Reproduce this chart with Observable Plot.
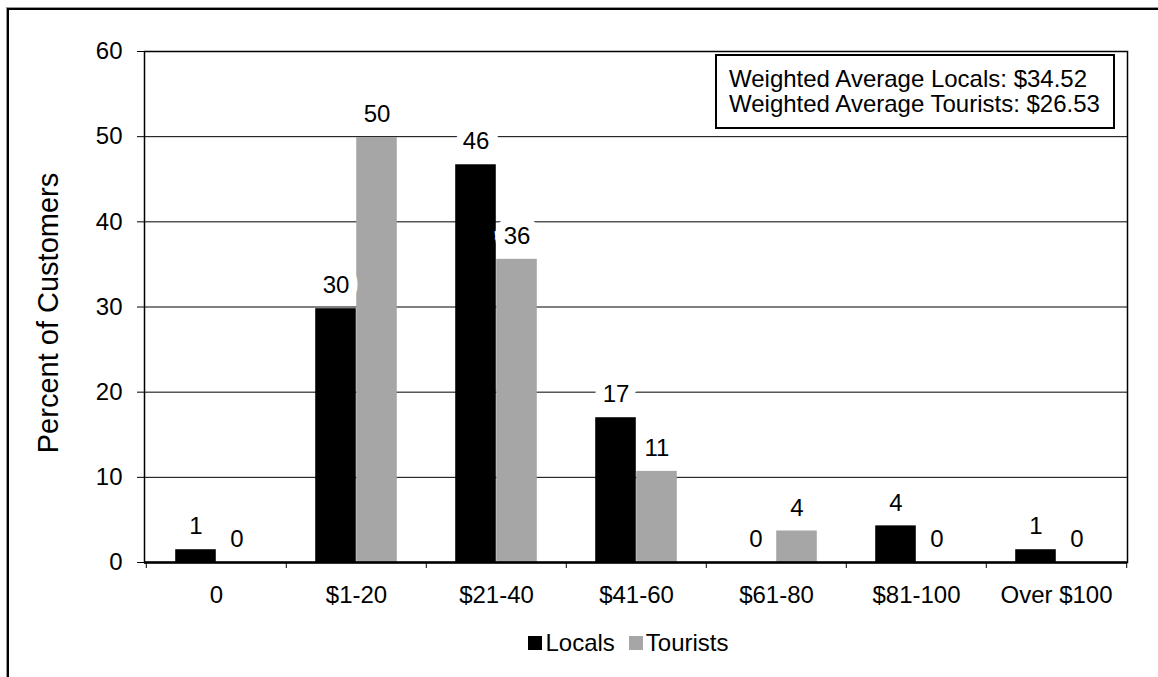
<!DOCTYPE html>
<html>
<head>
<meta charset="utf-8">
<script src="https://cdn.jsdelivr.net/npm/d3@7"></script>
<script src="https://cdn.jsdelivr.net/npm/@observablehq/plot@0.6"></script>
<style>
  body { margin: 0; background: #fff; font-family: Arial, "Liberation Sans", sans-serif; }
  #wrap { position: relative; width: 1158px; height: 677px; overflow: hidden; background: #fff; }
  #frame { position: absolute; left: 7px; top: 8px; width: 1200px; height: 720px;
           border-left: 2px solid #000; border-top: 2px solid #000; box-shadow: -1px -1px 0 #999; pointer-events: none; }
  #chart { position: absolute; left: 0; top: 0; }
  #note { position: absolute; left: 715px; top: 54px; width: 400px; height: 75px; box-sizing: border-box;
          border: 2px solid #000; background: #fff; font-size: 24px; line-height: 25px;
          padding: 10px 0 0 12px; color: #000; white-space: nowrap; }
  #legend { position: absolute; left: 144px; top: 626px; width: 983px; display: flex; justify-content: center; }
  #legend span > svg { margin-right: 3px !important; }
  #legend span { margin-right: 14px !important; }
</style>
</head>
<body>
<div id="wrap">
  <div id="chart"></div>
  <div id="note">Weighted Average Locals: $34.52<br>Weighted Average Tourists: $26.53</div>
  <div id="legend"></div>
  <div id="frame"></div>
</div>
<script>
// ---- data ----
const categories = ["0", "$1-20", "$21-40", "$41-60", "$61-80", "$81-100", "Over $100"];
const series = ["Locals", "Tourists"];
const seriesColors = ["#000000", "#a6a6a6"];
const localsValues = [1.5, 29.8, 46.7, 17.0, 0, 4.3, 1.5];
const touristsValues = [0, 49.9, 35.6, 10.7, 3.7, 0, 0];
const localsLabels = ["1", "30", "46", "17", "0", "4", "1"];
const touristsLabels = ["0", "50", "36", "11", "4", "0", "0"];
const yTicks = [0, 10, 20, 30, 40, 50, 60];
const gridTicks = [10, 20, 30, 40, 50];
const yTitle = "Percent of Customers";

// ---- layout ----
const W = 1158, H = 615;
const mL = 144, mR = 31, mT = 51, mB = 53;
const bw = (W - mL - mR) / categories.length;
const barW = 41;

const locals = categories.map((c, i) => ({category: c, series: "Locals", value: localsValues[i], label: localsLabels[i]}));
const tourists = categories.map((c, i) => ({category: c, series: "Tourists", value: touristsValues[i], label: touristsLabels[i]}));
const lastCat = [categories[categories.length - 1]];

const labelOpts = (dx) => ({x: "category", y: "value", text: "label", dx, dy: -23, lineAnchor: "middle", fontSize: 24});

const chart = Plot.plot({
  width: W, height: H,
  marginLeft: mL, marginRight: mR, marginTop: mT, marginBottom: mB,
  style: {fontFamily: "Arial, 'Liberation Sans', sans-serif", fontSize: "24px", color: "#000", background: "transparent"},
  x: {domain: categories, padding: 0, tickSize: 0, tickPadding: 23, label: null},
  y: {domain: [0, 60], ticks: yTicks, tickSize: 7, tickPadding: 15, label: null},
  color: {domain: series, range: seriesColors},
  marks: [
    Plot.ruleY(gridTicks, {stroke: "#000", strokeWidth: 1}),
    Plot.barY(locals, {x: "category", y: "value", fill: "series", insetLeft: bw / 2 - barW, insetRight: bw / 2}),
    Plot.barY(tourists, {x: "category", y: "value", fill: "series", insetLeft: bw / 2, insetRight: bw / 2 - barW}),
    // white label boxes
    Plot.text(locals, {...labelOpts(-barW / 2), fill: "white", stroke: "white", strokeWidth: 18, strokeLinejoin: "miter"}),
    Plot.text(tourists, {...labelOpts(barW / 2), fill: "white", stroke: "white", strokeWidth: 18, strokeLinejoin: "miter"}),
    Plot.text(locals, {...labelOpts(-barW / 2), fill: "#000"}),
    Plot.text(tourists, {...labelOpts(barW / 2), fill: "#000"}),
    Plot.frame({stroke: "#000", strokeWidth: 1.5}),
    Plot.ruleY([0], {stroke: "#000", strokeWidth: 2.5}),
    // category boundary ticks
    Plot.ruleX(categories, {x: d => d, y1: 0, y2: 0, dx: -bw / 2, insetBottom: -6, stroke: "#000", strokeWidth: 1}),
    Plot.ruleX(lastCat, {x: d => d, y1: 0, y2: 0, dx: bw / 2, insetBottom: -6, stroke: "#000", strokeWidth: 1}),
    Plot.text([yTitle], {text: d => d, frameAnchor: "left", textAnchor: "middle", lineAnchor: "middle", dx: -96, dy: 6, rotate: -90, fontSize: 29, fill: "#000"})
  ]
});
document.getElementById("chart").appendChild(chart);

const leg = chart.legend("color", {swatchWidth: 14, swatchHeight: 14, style: {fontSize: "24px", fontFamily: "Arial, 'Liberation Sans', sans-serif", color: "#000"}});
document.getElementById("legend").appendChild(leg);
</script>
</body>
</html>
